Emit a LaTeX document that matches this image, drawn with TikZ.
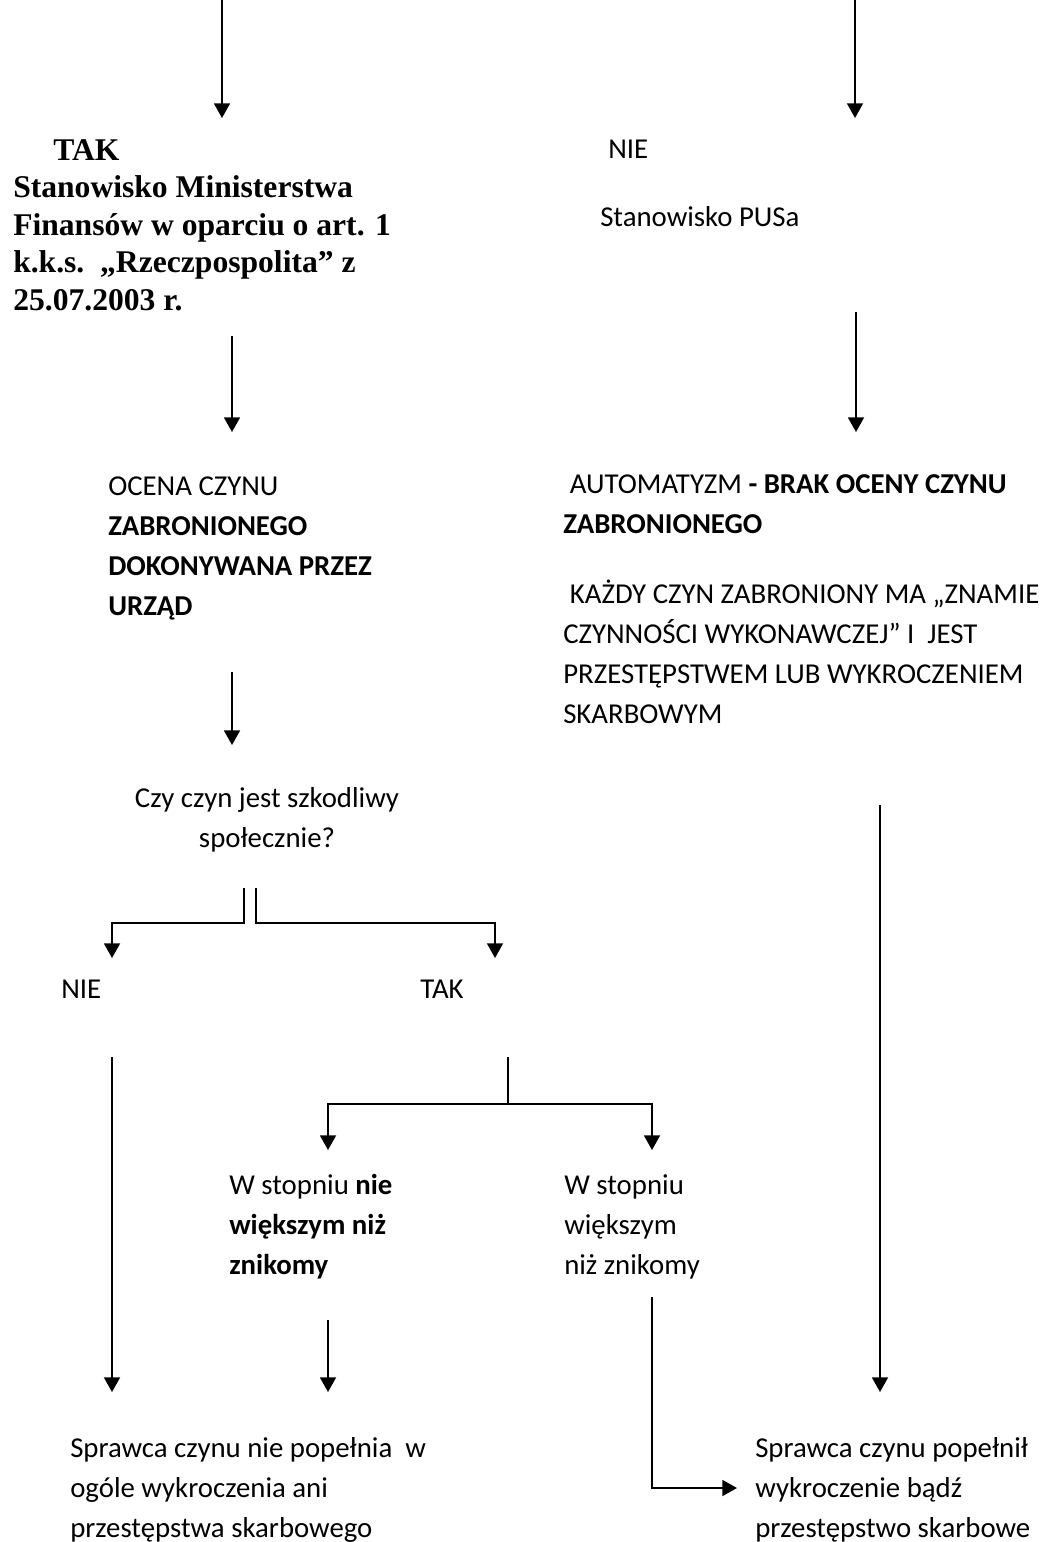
\documentclass[tikz,border=0pt]{standalone}
\usepackage{fontspec}
\setmainfont{Carlito}
\newfontfamily\timesfont{Liberation Serif}
\usetikzlibrary{arrows.meta}
\begin{document}
\begin{tikzpicture}[x=0.75pt,y=-0.75pt,
  txt/.style={anchor=base west,inner sep=0pt,align=left,font=\fontsize{21.6}{30}\selectfont},
  tms/.style={anchor=base west,inner sep=0pt,align=left,font=\timesfont\bfseries\fontsize{23.7}{28.1}\selectfont},
  conn/.style={line width=1.3pt},
  arr/.style={conn,-{Triangle[width=12pt,length=11pt]}}]
\useasboundingbox (0,0) rectangle (1055,1542);

% texts (anchored at the baseline of their last line)
\node[tms] (mf) at (13,310) {\hspace*{30pt}TAK\\Stanowisko Ministerstwa\\Finansów w oparciu o art. 1\\k.k.s.\ \ „Rzeczpospolita” z\\25.07.2003 r.};
\node[txt] (nie1) at (608,158) {NIE};
\node[txt] (pusa) at (600,226) {Stanowisko PUSa};
\node[txt] (ocena) at (108,615) {OCENA CZYNU\\\textbf{ZABRONIONEGO}\\\textbf{DOKONYWANA PRZEZ}\\\textbf{URZĄD}};
\node[txt] (auto) at (563,533) {\hspace*{5pt}AUTOMATYZM \textbf{- BRAK OCENY CZYNU}\\\textbf{ZABRONIONEGO}};
\node[txt] (kazdy) at (563,723) {\hspace*{5pt}KAŻDY CZYN ZABRONIONY MA „ZNAMIE\\CZYNNOŚCI WYKONAWCZEJ”\ I\ \ JEST\\PRZESTĘPSTWEM LUB WYKROCZENIEM\\SKARBOWYM};
\node[txt,anchor=base,align=center] (czy) at (267,847) {Czy czyn jest szkodliwy\\społecznie?};
\node[txt] (nie2) at (61,998) {NIE};
\node[txt] (tak2) at (420,998) {TAK};
\node[txt] (wnie) at (229,1274) {W stopniu \textbf{nie}\\\textbf{większym niż}\\\textbf{znikomy}};
\node[txt] (wwiek) at (564,1274) {W stopniu\\większym\\niż znikomy};
\node[txt] (spl) at (70,1537) {Sprawca czynu nie popełnia\ \ w\\ogóle wykroczenia ani\\przestępstwa skarbowego};
\node[txt] (spr) at (755,1537) {Sprawca czynu popełnił\\wykroczenie bądź\\przestępstwo skarbowe};

% connector end points
\coordinate (l1s) at (222,0);   \coordinate (l1e) at (222,118);
\coordinate (r1s) at (855,0);   \coordinate (r1e) at (855,118);
\coordinate (l2s) at (232,336); \coordinate (l2e) at (232,432);
\coordinate (r2s) at (856,312); \coordinate (r2e) at (856,432);
\coordinate (l3s) at (232,672); \coordinate (l3e) at (232,745);
\coordinate (dl) at (244,888);  \coordinate (dr) at (256,888);
\coordinate (nieA) at (112,958); \coordinate (takA) at (495,958);
\coordinate (splitY) at (0,923);
\coordinate (ts) at (508,1057); \coordinate (tsY) at (0,1104);
\coordinate (wnA) at (328,1150); \coordinate (wwA) at (652,1150);
\coordinate (nls) at (112,1057); \coordinate (nle) at (112,1392);
\coordinate (ms) at (328,1320);  \coordinate (me) at (328,1392);
\coordinate (ws) at (652,1297);  \coordinate (we) at (737,1488);
\coordinate (rls) at (880,805);  \coordinate (rle) at (880,1392);

% connectors
\draw[arr] (l1s) -- (l1e);
\draw[arr] (r1s) -- (r1e);
\draw[arr] (l2s) -- (l2e);
\draw[arr] (r2s) -- (r2e);
\draw[arr] (l3s) -- (l3e);
\draw[arr] (dl) -- (dl |- splitY) -| (nieA);
\draw[arr] (dr) -- (dr |- splitY) -| (takA);
\draw[conn] (ts) -- (ts |- tsY);
\draw[arr] (ts |- tsY) -| (wnA);
\draw[arr] (ts |- tsY) -| (wwA);
\draw[arr] (nls) -- (nle);
\draw[arr] (ms) -- (me);
\draw[arr] (ws) |- (we);
\draw[arr] (rls) -- (rle);
\end{tikzpicture}
\end{document}
